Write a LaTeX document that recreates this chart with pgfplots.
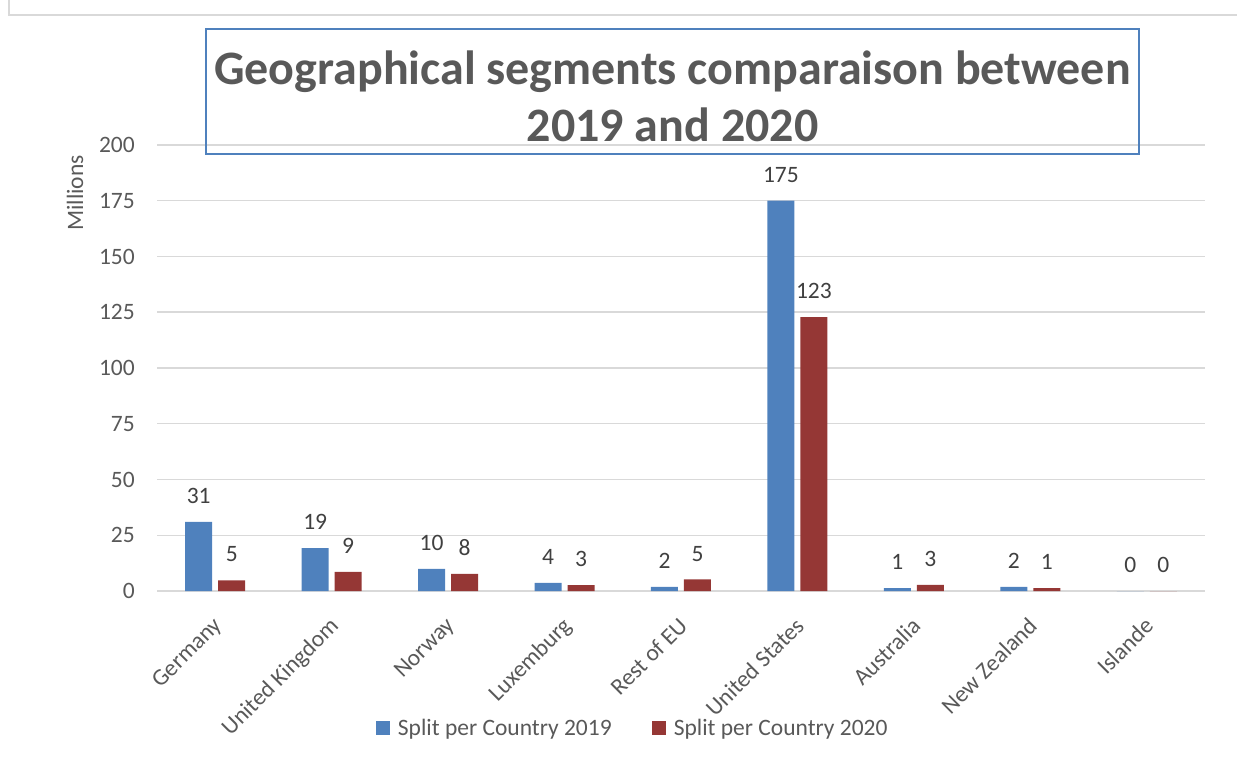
\documentclass[border=0pt]{standalone}
\usepackage{pgfplots}
\pgfplotsset{compat=1.18}
\usepackage{fontspec}
\setmainfont{Carlito}
\definecolor{sblue}{HTML}{4F81BD}
\definecolor{sred}{HTML}{953735}
\definecolor{txt}{HTML}{595959}
\definecolor{lbl}{HTML}{404040}
\definecolor{grd}{HTML}{D9D9D9}
\newcommand{\sm}{\fontsize{23.5}{28}\selectfont}
\begin{document}
\begin{tikzpicture}[x=1pt,y=1pt]
\useasboundingbox (0,0) rectangle (1237,758);
\draw[grd, line width=1.5pt] (9,758) -- (9,743) -- (1237,743);
\begin{axis}[
  at={(157pt,167pt)}, anchor=south west,
  scale only axis, width=1048pt, height=446pt,
  ybar=6pt, bar width=27pt,
  xmin=-0.5, xmax=8.5, ymin=0, ymax=200,
  ytick={0,25,...,200},
  xtick={0,...,8},
  xticklabels={Germany,United Kingdom,Norway,Luxemburg,Rest of EU,United States,Australia,New Zealand,Islande},
  x tick label style={rotate=45, anchor=north east, font=\sm, text=txt, inner sep=0pt, xshift=-20pt, yshift=-15pt},
  y tick label style={font=\sm, text=txt, inner sep=0pt, xshift=-22pt},
  ymajorgrids, grid style={grd, line width=1.5pt},
  axis line style={draw=none},
  major tick length=0pt,
  tick style={draw=none},
  /pgf/number format/assume math mode=true,
  clip=false,
  nodes near coords={\pgfmathprintnumber[fixed,precision=0,assume math mode=true]{\pgfplotspointmeta}},
  nodes near coords style={font=\sm, text=lbl, anchor=south, inner sep=0pt, yshift=18pt},
  legend style={at={(axis description cs:0.454,-0.307)}, anchor=center, draw=none, font=\sm, text=txt,
    legend columns=2,
    /tikz/every odd column/.append style={column sep=6pt},
    /tikz/every even column/.append style={column sep=38pt}},
  legend image code/.code={\fill[#1] (0pt,-7pt) rectangle (14pt,7pt);},
]
\addplot[fill=sblue, draw=none] coordinates {(0,31) (1,19.2) (2,9.9) (3,3.7) (4,1.8) (5,175) (6,1.3) (7,1.8) (8,0)};
\addlegendentry{Split per Country 2019}
\addplot[fill=sred, draw=none] coordinates {(0,4.8) (1,8.6) (2,7.7) (3,2.6) (4,5.2) (5,122.8) (6,2.7) (7,1.3) (8,0)};
\addlegendentry{Split per Country 2020}
\end{axis}
\node[draw=sblue, line width=1.5pt, minimum width=933pt, minimum height=125pt, inner sep=0pt] at (672.5,666.5) {};
\node[align=center, font=\fontsize{48}{57}\selectfont\bfseries, text=txt, inner sep=0pt] at (672.5,662) {Geographical segments comparaison between\\2019 and 2020};
\node[rotate=90, font=\sm, text=txt, inner sep=0pt] at (75,565) {Millions};
\end{tikzpicture}
\end{document}
